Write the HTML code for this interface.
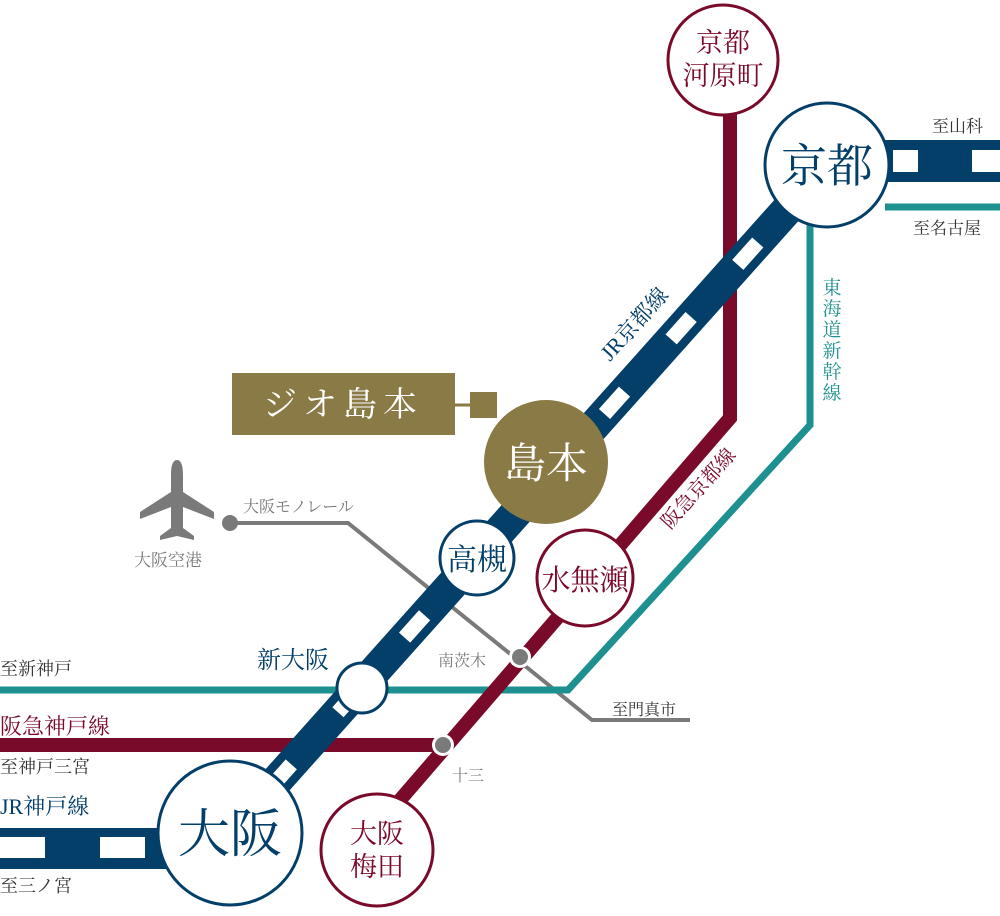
<!DOCTYPE html>
<html><head><meta charset="utf-8"><style>
html,body{margin:0;padding:0;background:#fff;}
svg{display:block;}
text{font-family:"Liberation Serif","Noto Serif CJK SC","Noto Sans CJK JP",serif;}
</style></head><body>
<svg width="1000" height="916" viewBox="0 0 1000 916" xmlns="http://www.w3.org/2000/svg">
<polyline points="236,523 348,523 592,720 690,720" fill="none" stroke="#7a7a7a" stroke-width="4"/>
<polyline points="0,690 568,690 810,425 810,225" fill="none" stroke="#1f9090" stroke-width="7"/>
<line x1="885" y1="207" x2="1000" y2="207" stroke="#1f9090" stroke-width="7"/>
<line x1="0" y1="745" x2="443" y2="745" stroke="#7a0a2a" stroke-width="14"/>
<polyline points="730,110 730,418 400,800" fill="none" stroke="#7a0a2a" stroke-width="14"/>
<line x1="230" y1="833" x2="827" y2="165" stroke="#033f68" stroke-width="32"/>
<line x1="230" y1="833" x2="827" y2="165" stroke="#fff" stroke-width="15" stroke-dasharray="30 70" stroke-dashoffset="38"/>
<rect x="880" y="140" width="120" height="42" fill="#033f68"/>
<rect x="893" y="150" width="25" height="22" fill="#fff"/>
<rect x="972" y="150" width="28" height="22" fill="#fff"/>
<rect x="0" y="828" width="170" height="41" fill="#033f68"/>
<rect x="0" y="837" width="45" height="21" fill="#fff"/>
<rect x="100" y="837" width="45" height="21" fill="#fff"/>
<circle cx="230" cy="523" r="8" fill="#7a7a7a"/>
<circle cx="520" cy="657" r="11" fill="#fff"/><circle cx="520" cy="657" r="8" fill="#7a7a7a"/>
<circle cx="443" cy="745" r="11" fill="#fff"/><circle cx="443" cy="745" r="8" fill="#7a7a7a"/>
<circle cx="723" cy="60" r="55" fill="#fff" stroke="#7a0a2a" stroke-width="3"/>
<circle cx="827" cy="165" r="62" fill="#fff" stroke="#033f68" stroke-width="3"/>
<circle cx="546" cy="462" r="62" fill="#8a7a45"/>
<circle cx="477" cy="558" r="37" fill="#fff" stroke="#033f68" stroke-width="3"/>
<circle cx="585" cy="578" r="48" fill="#fff" stroke="#7a0a2a" stroke-width="3"/>
<circle cx="362" cy="688" r="25" fill="#fff" stroke="#033f68" stroke-width="3"/>
<circle cx="230" cy="833" r="72" fill="#fff" stroke="#033f68" stroke-width="3"/>
<circle cx="377" cy="850" r="56" fill="#fff" stroke="#7a0a2a" stroke-width="3"/>
<rect x="232" y="373" width="223" height="62" fill="#8a7a45"/>
<line x1="455" y1="405" x2="472" y2="405" stroke="#8a7a45" stroke-width="3"/>
<rect x="470" y="392" width="27" height="26" fill="#8a7a45"/>
<text x="343" y="416" font-size="34" fill="#fff" text-anchor="middle" letter-spacing="6">ジオ島本</text>
<path d="M177,460 C172,460 171,468 171,475 L171,492 L140,512 L140,519 L171,507 L171,528 L160,536 L160,540 L177,536 L194,540 L194,536 L183,528 L183,507 L214,519 L214,512 L183,492 L183,475 C183,468 182,460 177,460Z" fill="#7a7a7a"/>
<g text-anchor="middle">
<text x="723" y="52" font-size="27" fill="#7a0a2a">京都</text>
<text x="723" y="85" font-size="27" fill="#7a0a2a">河原町</text>
<text x="827" y="182" font-size="46" fill="#033f68">京都</text>
<text x="546" y="478" font-size="42" fill="#fff">島本</text>
<text x="477" y="570" font-size="30" fill="#033f68">高槻</text>
<text x="585" y="590" font-size="29" fill="#7a0a2a">水無瀬</text>
<text x="230" y="852" font-size="52" fill="#033f68">大阪</text>
<text x="377" y="843" font-size="27" fill="#7a0a2a">大阪</text>
<text x="377" y="876" font-size="27" fill="#7a0a2a">梅田</text>
</g>
<text x="257" y="668" font-size="24" fill="#033f68">新大阪</text>
<text x="438" y="666" font-size="16" fill="#7a7a7a">南茨木</text>
<text x="452" y="781" font-size="16" fill="#7a7a7a">十三</text>
<text x="243" y="512" font-size="16" fill="#7a7a7a">大阪モノレール</text>
<text x="134" y="566" font-size="17" fill="#7a7a7a">大阪空港</text>
<text x="612" y="715" font-size="16" fill="#333">至門真市</text>
<text x="0" y="675" font-size="18" fill="#333">至新神戸</text>
<text x="0" y="734" font-size="22" fill="#7a0a2a">阪急神戸線</text>
<text x="0" y="773" font-size="18" fill="#333">至神戸三宮</text>
<text x="0" y="814" font-size="22" fill="#033f68">JR神戸線</text>
<text x="0" y="892" font-size="18" fill="#333">至三ノ宮</text>
<text x="932" y="132" font-size="17" fill="#333">至山科</text>
<text x="913" y="234" font-size="17" fill="#333">至名古屋</text>
<g font-size="19" fill="#1f9090" text-anchor="middle">
<text x="832" y="294">東</text><text x="832" y="315">海</text><text x="832" y="336">道</text><text x="832" y="357">新</text><text x="832" y="378">幹</text><text x="832" y="399">線</text>
</g>
<text x="0" y="0" font-size="22" fill="#033f68" transform="translate(610,362) rotate(-48)">JR京都線</text>
<text x="0" y="0" font-size="20" fill="#7a0a2a" transform="translate(670,530) rotate(-48)">阪急京都線</text>
</svg>
</body></html>
